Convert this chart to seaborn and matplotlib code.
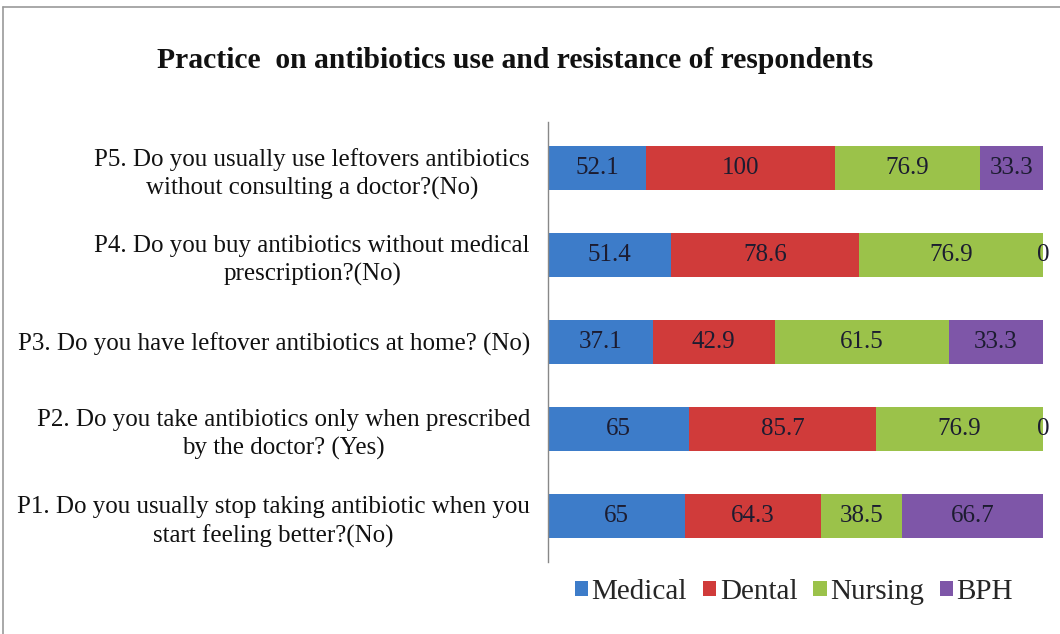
import matplotlib
matplotlib.use("Agg")
import matplotlib.pyplot as plt
from matplotlib.lines import Line2D
from matplotlib.patches import Patch
import seaborn as sns
import pandas as pd
import numpy as np

questions = [
    "P5. Do you usually use leftovers antibiotics\nwithout consulting a doctor?(No)",
    "P4. Do you buy antibiotics without medical\nprescription?(No)",
    "P3. Do you have leftover antibiotics at home? (No)",
    "P2. Do you take antibiotics only when prescribed\nby the doctor? (Yes)",
    "P1. Do you usually stop taking antibiotic when you\nstart feeling better?(No)",
]
series_names = ["Medical", "Dental", "Nursing", "BPH"]
medical = [52.1, 51.4, 37.1, 65, 65]
dental = [100, 78.6, 42.9, 85.7, 64.3]
nursing = [76.9, 76.9, 61.5, 76.9, 38.5]
bph = [33.3, 0, 33.3, 0, 66.7]
colors = ["#3d7cc9", "#d03b3a", "#9bc24a", "#7e56a8"]

sns.set_theme(style="white")
plt.rcParams["font.family"] = ["Liberation Serif", "DejaVu Serif"]

values = np.array([medical, dental, nursing, bph], dtype=float)
totals = values.sum(axis=0)
cum = np.cumsum(values, axis=0) / totals

df = pd.DataFrame({"question": questions})
for k, name in enumerate(series_names):
    df[name + "_cum"] = cum[k]

fig = plt.figure(figsize=(10.6, 6.34), dpi=100)
ax = fig.add_axes([548 / 1060, 1 - 562 / 634, (1043 - 548) / 1060, (562 - 122) / 634])

for k in range(len(series_names) - 1, -1, -1):
    sns.barplot(data=df, x=series_names[k] + "_cum", y="question", orient="h",
                color=colors[k], saturation=1, width=0.5, ax=ax, linewidth=0)

ax.set_xlim(0, 1)
ax.set_ylim(4.53, -0.53)
ax.set_xlabel("")
ax.set_ylabel("")
ax.set_xticks([])
for s in ["top", "right", "bottom"]:
    ax.spines[s].set_visible(False)
ax.spines["left"].set_color("#888888")
ax.spines["left"].set_linewidth(1.0)
ax.tick_params(axis="y", length=0, pad=13)
for lbl in ax.get_yticklabels():
    lbl.set_fontsize(18)
    lbl.set_multialignment("center")
    lbl.set_linespacing(1.35)
    lbl.set_color("#111111")

for k in range(len(series_names)):
    for i in range(len(questions)):
        v = values[k, i]
        xc = cum[k, i] - v / totals[i] / 2
        ax.text(xc, i, f"{v:g}", ha="center", va="center", fontsize=18,
                color="#1c1c30")

fig.text(515 / 1060, 1 - 61 / 634, "Practice  on antibiotics use and resistance of respondents",
         ha="center", va="center", fontsize=21.3, fontweight="bold", color="#111111")

handles = [Patch(facecolor=c, edgecolor="none") for c in colors]
fig.legend(handles, series_names, loc="center", bbox_to_anchor=(794 / 1060, 1 - 592 / 634),
           ncol=4, frameon=False, fontsize=21, handlelength=0.45, handleheight=0.45,
           handletextpad=0.12, columnspacing=0.55)

fig.add_artist(Line2D([3 / 1060, 3 / 1060], [0, 1 - 7 / 634], transform=fig.transFigure,
                      color="#999999", linewidth=1.2))
fig.add_artist(Line2D([3 / 1060, 1], [1 - 7 / 634, 1 - 7 / 634], transform=fig.transFigure,
                      color="#999999", linewidth=1.2))

fig.savefig("out.png", dpi=100)
